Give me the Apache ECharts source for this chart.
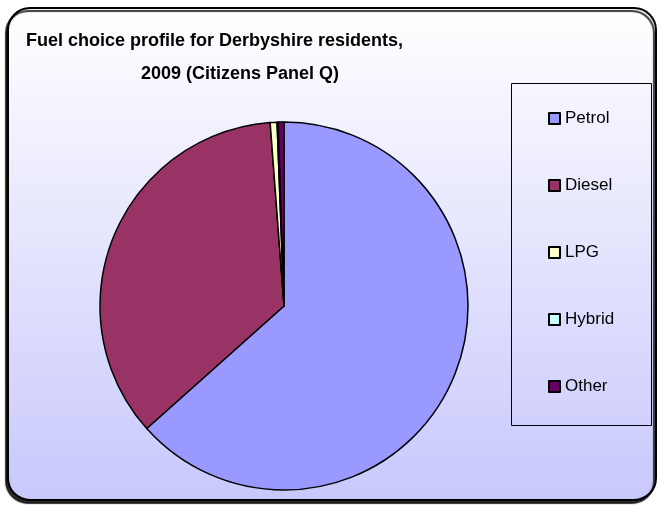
<!DOCTYPE html>
<html><head><meta charset="utf-8">
<script src="https://cdn.jsdelivr.net/npm/echarts@6/dist/echarts.min.js"></script>
<style>html,body{margin:0;padding:0;background:#fff}#c{width:665px;height:506px}</style>
</head><body><div id="c"></div>
<script>
const categories = ['Petrol', 'Diesel', 'LPG', 'Hybrid', 'Other'];
const values = [63.4, 35.4, 0.6, 0.1, 0.5];
const colors = ['#9999FF', '#993366', '#FFFFCC', '#CCFFFF', '#660066'];
const titleLines = ['Fuel choice profile for Derbyshire residents,', '2009 (Citizens Panel Q)'];

const chart = echarts.init(document.getElementById('c'), null, {renderer: 'canvas'});
chart.setOption({
  animation: false,
  graphic: [
    {type: 'rect', z: -10, shape: {x: 8, y: 8, width: 648, height: 492, r: 22},
     style: {fill: new echarts.graphic.LinearGradient(0, 0, 0, 1, [{offset: 0, color: '#ffffff'}, {offset: 1, color: '#c8c8fc'}]),
             stroke: '#000', lineWidth: 2, shadowColor: 'rgba(0,0,0,0.8)', shadowOffsetX: -2, shadowOffsetY: 3, shadowBlur: 1}},
    {type: 'rect', z: -5, shape: {x: 511.5, y: 83.5, width: 140, height: 342},
     style: {fill: 'rgba(0,0,0,0)', stroke: '#000', lineWidth: 1}}
  ],
  title: [
    {text: titleLines[0], left: 21, top: 27, textStyle: {fontFamily: 'Liberation Sans', fontWeight: 'bold', fontSize: 18, color: '#000'}},
    {text: titleLines[1], left: 235, textAlign: 'center', top: 60, textStyle: {fontFamily: 'Liberation Sans', fontWeight: 'bold', fontSize: 18, color: '#000'}}
  ],
  legend: {
    orient: 'vertical', left: 543, top: 105, itemGap: 50, itemWidth: 11, itemHeight: 11,
    icon: 'rect', data: categories,
    textStyle: {fontFamily: 'Liberation Sans', fontSize: 17, color: '#000'}
  },
  series: [{
    type: 'pie', center: [284, 306], radius: 184, startAngle: 90, clockwise: true,
    label: {show: false}, labelLine: {show: false}, emphasis: {disabled: true},
    itemStyle: {borderColor: '#000', borderWidth: 1.5},
    data: categories.map((n, i) => ({name: n, value: values[i], itemStyle: {color: colors[i]}}))
  }]
});
</script></body></html>
